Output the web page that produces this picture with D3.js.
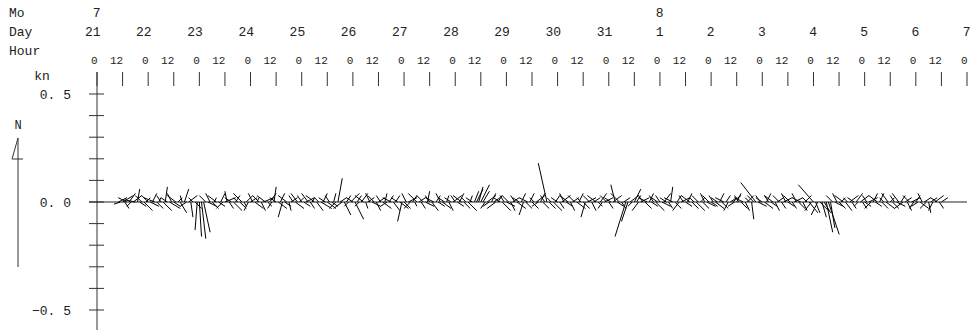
<!DOCTYPE html>
<html>
<head>
<meta charset="utf-8">
<script src="https://cdn.jsdelivr.net/npm/d3@7"></script>
<style>
  body { margin: 0; background: #fff; }
  text { font-family: "Liberation Mono", "DejaVu Sans Mono", monospace; fill: #222; }
</style>
</head>
<body>
<script>
// hourly current vectors, units of 0.01 kn, first value at 21 Jul 10:00
const startTime = Date.UTC(2019, 6, 21, 10);
const east = [
  4,-3,5,2,-4,3,-2,4,-5,1,3,-3,4,2,
  -3,4,2,-5,3,1,-2,4,1,-3,5,-2,3,-4,2,3,-1,2,-3,4,1,-2,3,-1,
  1,2,3,-3,4,-2,3,1,-4,3,2,-3,5,-1,2,-3,4,2,-2,3,-4,1,3,-2,
  3,-2,4,1,-3,2,5,-4,2,3,-2,1,-3,4,2,-2,3,-4,1,3,-2,4,-3,2,
  -2,3,4,-3,2,1,-4,3,-2,5,2,-3,4,-2,3,1,-3,2,3,-4,3,2,-2,4,
  -3,4,2,-2,3,-4,1,3,-2,4,-3,2,3,-2,4,1,-3,2,-4,3,2,-3,4,-2,
  3,-2,4,-3,2,1,-4,3,2,-3,4,1,-2,3,-4,2,3,-2,4,-3,1,2,-3,4,
  -2,3,2,-4,3,-2,4,1,-3,2,3,2,4,3,-2,4,-3,2,3,-4,2,-3,4,-2,
  4,-3,2,3,-2,4,-3,2,-2,3,-4,2,3,-2,4,-3,2,3,-2,-4,3,-2,4,2,
  -3,2,4,-2,3,-4,2,3,-3,4,2,-2,3,-2,4,-3,2,3,-4,2,3,-2,4,-3,
  2,-3,4,-2,3,-4,2,3,-5,-3,4,-2,3,2,-3,4,-2,3,-4,2,3,-2,4,-3,
  -2,4,3,-3,2,1,-4,3,2,-3,4,-2,3,2,-4,3,-2,4,-3,2,3,-2,4,-3,
  3,-2,4,-3,2,3,-4,2,-2,3,4,-3,2,-2,3,-4,2,3,-2,1,-3,-7,4,-2,
  -3,4,2,-2,3,-4,2,3,-3,2,4,-2,3,-3,2,4,-2,3,-4,2,3,-2,4,-3,
  -7,2,-3,4,2,3,3,5,2,-3,4,-2,3,2,-4,3,-2,4,2,-3,3,-2,4,2,
  3,-2,4,-3,2,3,-4,2,3,-2,4,-3,2,3,-2,4,-3,2,-4,3,2,-3,4,-2,
  2,-3,4,-2,3,-3,1,3,-2,4,-3,2,3
];
const north = [
  2,-1,3,-3,2,4,-2,3,1,6,-2,3,-4,2,
  3,-2,4,2,-3,2,3,-4,7,2,-3,4,-2,3,2,-5,3,6,-2,3,-7,2,-3,-13,
  -16,-17,-14,3,-2,4,-3,2,3,-2,4,-3,2,5,-3,2,-4,3,2,-3,4,-2,3,-4,
  2,4,-3,2,3,-4,2,3,-2,4,-3,7,2,-3,4,-7,-2,3,-4,2,3,-3,4,2,
  3,-2,2,4,-3,2,3,-4,2,-3,4,2,-3,3,-2,4,-3,11,2,-3,-6,3,-2,4,
  2,-8,3,-2,4,3,-3,2,4,-2,3,-4,2,3,-3,4,-2,3,2,-4,3,2,-3,-9,
  -3,4,2,-3,3,-2,4,2,-3,3,-2,5,3,-4,2,3,-2,4,-3,2,3,-4,2,3,
  3,-2,4,3,-3,2,-4,3,2,5,6,7,8,5,-3,3,-2,4,2,-3,3,2,-4,3,
  -2,3,-4,2,3,-3,2,4,-6,-3,2,4,-3,2,3,-2,4,-3,3,18,-3,2,-4,3,
  2,-3,3,4,-2,3,-4,2,3,-3,4,2,-3,-7,2,3,-4,2,3,-2,4,-3,2,3,
  -3,2,3,8,-2,4,-3,2,-16,-9,3,-2,6,3,-4,2,3,-3,2,4,-2,3,-4,2,
  3,-2,4,2,-3,7,2,-3,3,-4,2,3,-2,4,3,-3,2,-4,3,2,-3,4,-2,3,
  -2,3,-3,2,4,-3,2,3,-4,2,3,-2,4,3,-3,2,-4,3,2,-8,3,9,-2,3,
  2,-3,4,3,-2,3,-4,2,3,-3,2,4,-2,3,-3,2,4,-3,2,-4,3,2,-5,-4,
  8,-5,-6,-4,-7,-5,-14,-15,-12,3,-2,4,-3,2,3,-4,2,3,-3,2,4,-2,3,-3,
  -2,3,2,-3,4,-2,3,4,-3,2,-3,4,2,-3,3,-2,4,3,-3,2,-4,3,2,-3,
  3,-2,-3,4,2,-3,-5,2,-4,3,2,-3,2
];

const rowLabels = ['Mo', 'Day', 'Hour'];
const yTickValues = [-0.5, -0.4, -0.3, -0.2, -0.1, 0, 0.1, 0.2, 0.3, 0.4, 0.5];
const yTickLabels = { '0.5': '0. 5', '0': '0. 0', '-0.5': '\u22120. 5' };

const width = 973, height = 333;
const svg = d3.select('body').append('svg')
  .attr('width', width)
  .attr('height', height);

const t0 = new Date(Date.UTC(2019, 6, 21));
const t1 = new Date(Date.UTC(2019, 7, 7));
const x = d3.scaleUtc().domain([t0, t1]).range([97, 967]);
const y = d3.scaleLinear().domain([-0.5, 0.5]).range([310, 94]);
const k = y(0) - y(1); // pixels per knot, same both ways

// row titles on the left
svg.selectAll('.rowlab')
  .data(rowLabels)
  .enter().append('text')
  .attr('x', 9)
  .attr('y', (d, i) => [17, 36, 55][i])
  .attr('font-size', 13)
  .text(d => d);

// month / day / hour labels along the top
const halfDays = d3.utcHour.every(12).range(t0, new Date(+t1 + 1));
const days = d3.utcDay.range(t0, new Date(+t1 + 1));

svg.selectAll('.mo')
  .data(days.filter((d, i) => i === 0 || d.getUTCDate() === 1))
  .enter().append('text')
  .attr('x', d => x(d) + 3.5)
  .attr('y', 17)
  .attr('text-anchor', 'end')
  .attr('font-size', 13)
  .text(d => d.getUTCMonth() + 1);

svg.selectAll('.day')
  .data(days)
  .enter().append('text')
  .attr('x', d => x(d) + 3.5)
  .attr('y', 36)
  .attr('text-anchor', 'end')
  .attr('font-size', 13)
  .text(d => d.getUTCDate());

svg.selectAll('.hr')
  .data(halfDays)
  .enter().append('text')
  .attr('x', d => x(d) + 0.5)
  .attr('y', 64)
  .attr('text-anchor', 'end')
  .attr('font-size', 11)
  .text(d => d.getUTCHours());

svg.selectAll('.htick')
  .data(halfDays)
  .enter().append('line')
  .attr('x1', d => x(d)).attr('x2', d => x(d))
  .attr('y1', 72).attr('y2', 86)
  .attr('stroke', '#333');

// y axis
svg.append('line')
  .attr('x1', x(t0)).attr('x2', x(t0))
  .attr('y1', 72).attr('y2', 330)
  .attr('stroke', '#333');

svg.selectAll('.ytick')
  .data(yTickValues)
  .enter().append('line')
  .attr('x1', 89).attr('x2', 104)
  .attr('y1', d => y(d)).attr('y2', d => y(d))
  .attr('stroke', '#333');

svg.selectAll('.ylab')
  .data(yTickValues.filter(d => yTickLabels[d] !== undefined))
  .enter().append('text')
  .attr('x', 71)
  .attr('y', d => y(d) + 5)
  .attr('text-anchor', 'end')
  .attr('font-size', 13)
  .text(d => yTickLabels[d]);

svg.append('text')
  .attr('x', 42).attr('y', 80)
  .attr('text-anchor', 'middle')
  .attr('font-size', 13)
  .text('kn');

// zero line
svg.append('line')
  .attr('x1', 89).attr('x2', x(t1))
  .attr('y1', y(0)).attr('y2', y(0))
  .attr('stroke', '#222');

// north arrow
svg.append('text')
  .attr('x', 18).attr('y', 129)
  .attr('text-anchor', 'middle')
  .attr('font-size', 12)
  .text('N');
svg.append('path')
  .attr('d', 'M18,267 L18,138 L12,159 L23,159')
  .attr('fill', 'none')
  .attr('stroke', '#333');

// sticks
const sticks = east.map((u, i) => ({
  t: new Date(startTime + i * 3600e3),
  u: u / 100,
  v: north[i] / 100
}));

svg.append('g')
  .selectAll('line')
  .data(sticks)
  .enter().append('line')
  .attr('x1', d => x(d.t))
  .attr('y1', y(0))
  .attr('x2', d => x(d.t) + d.u * k)
  .attr('y2', d => y(0) - d.v * k)
  .attr('stroke', '#000')
  .attr('stroke-width', 1);
</script>
</body>
</html>
